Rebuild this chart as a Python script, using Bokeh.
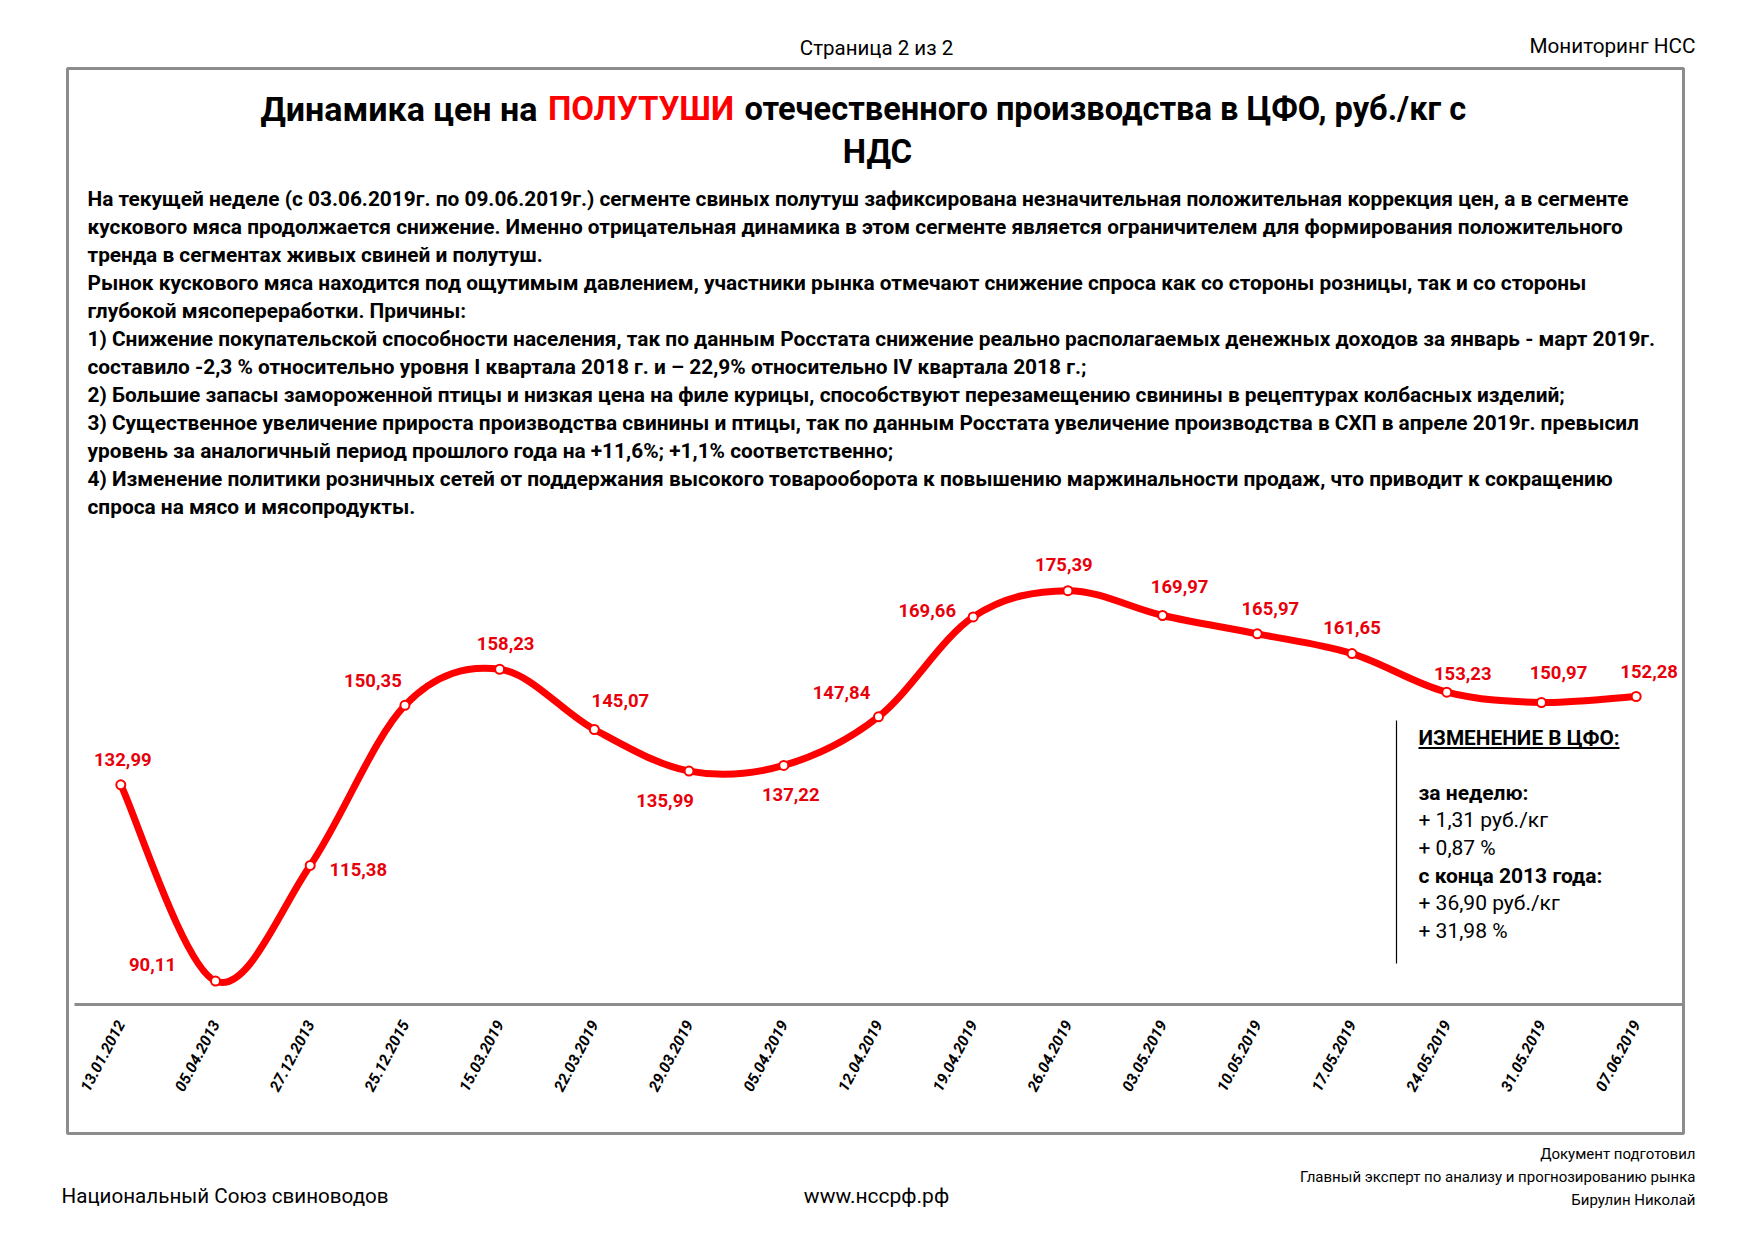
import numpy as np
from bokeh.plotting import figure
from bokeh.models import Range1d
from bokeh.embed import file_html
from bokeh.resources import INLINE
from bokeh.core.properties import value

# ---------------- data ----------------
dates = ["13.01.2012", "05.04.2013", "27.12.2013", "25.12.2015", "15.03.2019",
         "22.03.2019", "29.03.2019", "05.04.2019", "12.04.2019", "19.04.2019",
         "26.04.2019", "03.05.2019", "10.05.2019", "17.05.2019", "24.05.2019",
         "31.05.2019", "07.06.2019"]
prices = [132.99, 90.11, 115.38, 150.35, 158.23, 145.07, 135.99, 137.22, 147.84,
          169.66, 175.39, 169.97, 165.97, 161.65, 153.23, 150.97, 152.28]

title_parts = ["Динамика цен на", "ПОЛУТУШИ", "отечественного производства в ЦФО, руб./кг с"]
title_line2 = "НДС"

body_lines = [
    "На текущей неделе (с 03.06.2019г. по 09.06.2019г.) сегменте свиных полутуш зафиксирована незначительная положительная коррекция цен, а в сегменте",
    "кускового мяса продолжается снижение. Именно отрицательная динамика в этом сегменте является ограничителем для формирования положительного",
    "тренда в сегментах живых свиней и полутуш.",
    "Рынок кускового мяса находится под ощутимым давлением, участники рынка отмечают снижение спроса как со стороны розницы, так и со стороны",
    "глубокой мясопереработки. Причины:",
    "1) Снижение покупательской способности населения, так по данным Росстата снижение реально располагаемых денежных доходов за январь - март 2019г.",
    "составило -2,3 % относительно уровня I квартала 2018 г. и – 22,9% относительно IV квартала 2018 г.;",
    "2) Большие запасы замороженной птицы и низкая цена на филе курицы, способствуют перезамещению свинины в рецептурах колбасных изделий;",
    "3) Существенное увеличение прироста производства свинины и птицы, так по данным Росстата увеличение производства в СХП в апреле 2019г. превысил",
    "уровень за аналогичный период прошлого года на +11,6%; +1,1% соответственно;",
    "4) Изменение политики розничных сетей от поддержания высокого товарооборота к повышению маржинальности продаж, что приводит к сокращению",
    "спроса на мясо и мясопродукты.",
]

change_heading = "ИЗМЕНЕНИЕ В ЦФО:"
change_lines = [("за неделю:", True), ("+ 1,31 руб./кг", False), ("+ 0,87 %", False),
                ("с конца 2013 года:", True), ("+ 36,90 руб./кг", False), ("+ 31,98 %", False)]

header_center = "Страница 2 из 2"
header_right = "Мониторинг НСС"
footer_left = "Национальный Союз свиноводов"
footer_center = "www.нссрф.рф"
footer_right = ["Документ подготовил", "Главный эксперт по анализу и прогнозированию рынка", "Бирулин Николай"]

# ---------------- layout ----------------
W, H = 1736, 1222
OX, OY = 0, 0
FONT = "Roboto"
RED = "#FF0000"
LABEL_RED = "#E8000B"
GRAY = "#8C8C8C"

p = figure(width=W, height=H, output_backend="svg", toolbar_location=None,
           x_range=Range1d(OX, OX + W), y_range=Range1d(OY + H, OY),
           x_axis_location=None, y_axis_location=None, min_border=0,
           outline_line_color=None, background_fill_color="white",
           border_fill_color="white")
p.grid.visible = False

# chart scales (value axis 85 at the category axis line)
X_FIRST_PX, X_STEP_PX = 120.3, 94.71
VAL_LO, PX_LO, PX_PER_VAL = 85.0, 1004.0, 4.578
p.extra_x_ranges = {"idx": Range1d(-(X_FIRST_PX - OX) / X_STEP_PX,
                                    (OX + W - X_FIRST_PX) / X_STEP_PX)}
p.extra_y_ranges = {"price": Range1d(VAL_LO - (OY + H - PX_LO) / PX_PER_VAL,
                                      VAL_LO + (PX_LO - OY) / PX_PER_VAL)}


def txt(x, y, s, size, color="black", style="normal", align="left",
        baseline="middle", angle=0.0, **kw):
    p.text(x=[x], y=[y], text=[s], text_font=value(FONT),
           text_font_size=f"{size}px", text_color=color, text_font_style=style,
           text_align=align, text_baseline=baseline, angle=angle, **kw)


# page frame
p.quad(left=[67], right=[1683], top=[68], bottom=[1133], fill_color=None,
       line_color=GRAY, line_width=3)

# header / footer
txt(876, 47, header_center, 20.5, align="center")
txt(1695, 45, header_right, 20.7, align="right")
txt(61, 1195, footer_left, 20.6)
txt(876, 1195, footer_center, 21, align="center")
for i, s in enumerate(footer_right):
    txt(1695, 1153 + i * 23, s, 15, align="right")

# title
TY = 108
txt(537, TY, title_parts[0], 34, style="bold", align="right")
txt(640.5, TY, title_parts[1], 33, color=RED, style="bold", align="center")
txt(744, TY, title_parts[2], 32.6, style="bold", align="left")
txt(877, 151, title_line2, 33, style="bold", align="center")

# body paragraph
for i, s in enumerate(body_lines):
    txt(87, 198 + i * 28, s, 20.85, style="bold")

# category axis line
p.segment(x0=[74], y0=[1004], x1=[1683], y1=[1004], line_color=GRAY, line_width=3)

# smoothed line (Bezier through the points, Catmull-Rom style control points)
xs = np.arange(len(prices), dtype=float)
ys = np.array(prices, dtype=float)
xp = np.concatenate([[xs[0]], xs, [xs[-1]]])
yp = np.concatenate([[ys[0]], ys, [ys[-1]]])
n = len(xs)
cx0 = xs[:-1] + (xp[2:n + 1] - xp[0:n - 1]) / 6.0
cy0 = ys[:-1] + (yp[2:n + 1] - yp[0:n - 1]) / 6.0
cx1 = xs[1:] - (xp[3:n + 2] - xp[1:n]) / 6.0
cy1 = ys[1:] - (yp[3:n + 2] - yp[1:n]) / 6.0
p.bezier(x0=xs[:-1], y0=ys[:-1], x1=xs[1:], y1=ys[1:], cx0=cx0, cy0=cy0,
         cx1=cx1, cy1=cy1, line_color=RED, line_width=7, line_cap="round",
         x_range_name="idx", y_range_name="price")
p.scatter(x=xs, y=ys, size=9, marker="circle", fill_color="white",
          line_color=RED, line_width=2, x_range_name="idx", y_range_name="price")

# data labels (pixel offsets from each point, as placed in the reference)
label_dx = [2, -63, 48, -32, 6, 26, -24, 7, -37, -46, -4, 17, 13, 0, 16, 17, 13]
label_dy = [-25, -17, 4, -25, -26, -29, 29, 29, -24, -6, -26, -29, -25, -26, -19, -30, -25]
p.text(x=xs, y=ys, text=[f"{v:.2f}".replace(".", ",") for v in prices],
       x_offset=label_dx, y_offset=label_dy, text_font=value(FONT),
       text_font_size="18.5px", text_font_style="bold", text_color=LABEL_RED,
       text_align="center", text_baseline="middle",
       x_range_name="idx", y_range_name="price")

# category tick labels
p.text(x=xs, y=[1021] * len(dates), text=dates, angle=np.deg2rad(62),
       text_font=value(FONT), text_font_size="15.5px", text_font_style="bold italic",
       text_color="black", text_align="right", text_baseline="middle",
       x_range_name="idx")

# change box
p.segment(x0=[1396], y0=[720], x1=[1396], y1=[963], line_color="black", line_width=1.2)
txt(1418, 737, change_heading, 20.8, style="bold")
p.segment(x0=[1418], y0=[747.5], x1=[1619], y1=[747.5], line_color="black", line_width=2)
for i, (s, bold) in enumerate(change_lines):
    txt(1418, 792 + i * 27.7, s, 21, style="bold" if bold else "normal")

open("out.html", "w").write(file_html(p, INLINE))
